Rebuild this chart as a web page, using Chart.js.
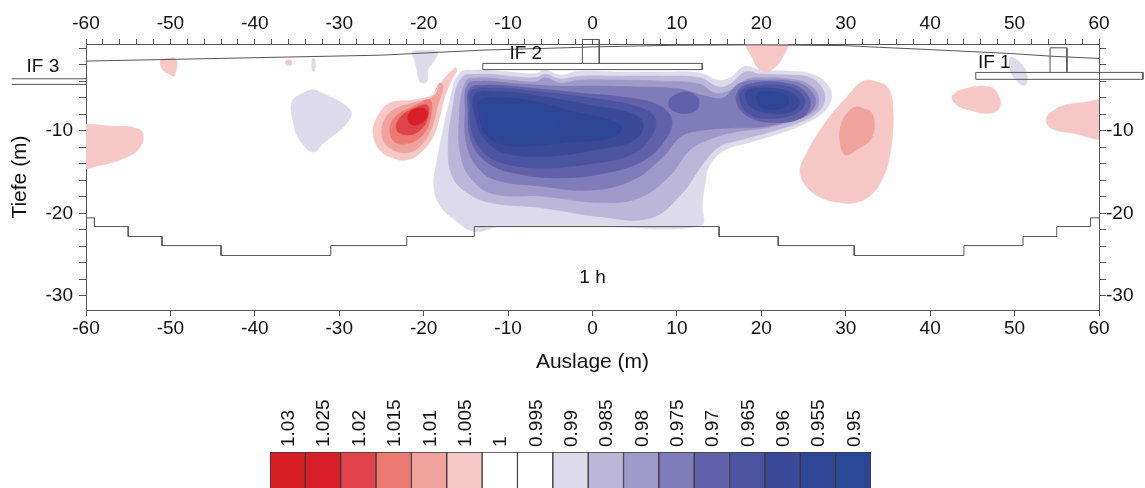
<!DOCTYPE html>
<html><head><meta charset="utf-8">
<script src="https://cdn.jsdelivr.net/npm/chart.js@4.4.1/dist/chart.umd.min.js"></script>
<style>
html,body{margin:0;padding:0;background:#fff;width:1145px;height:488px;overflow:hidden}
#main{position:absolute;left:0;top:0}
#bar{position:absolute;left:0;top:380px}
</style>
</head><body>
<canvas id="main" width="1145" height="380"></canvas>
<canvas id="bar" width="1145" height="108"></canvas>
<script>
// ---------- colour scale (legend) ----------
const levelLabels = ['1.03','1.025','1.02','1.015','1.01','1.005','1','0.995','0.99','0.985','0.98','0.975','0.97','0.965','0.96','0.955','0.95'];
const levelColors = ['#d51d23','#d81f27','#e0434b','#eb7b72','#f0a29d','#f6c8c5','#ffffff','#ffffff','#dcdaeb','#bcb6d9','#9f99ca','#807bb9','#6260a8','#4a54a0','#3a4a99','#2f4596','#2b4797'];

// ---------- contour outlines  [Auslage m, Tiefe m] ----------
const blueMain1 = [[-15.7,-3.0],[-13.3,-2.66],[-9.8,-2.9],[-6.8,-3.1],[-5.6,-2.66],[-3.85,-3.26],[-1.5,-2.8],[3.3,-2.9],[8.0,-2.9],[12.7,-3.0],[14.9,-3.87],[16.3,-3.6],[18.1,-2.2],[19.85,-2.66],[23.4,-2.8],[26.0,-3.15],[27.8,-4.35],[28.3,-6.05],[27.4,-7.74],[24.8,-9.3],[22.2,-10.3],[18.66,-11.4],[15.7,-12.33],[13.9,-14.15],[13.3,-16.6],[13.0,-19.0],[12.8,-21.5],[0.9,-21.6],[-11,-21.6],[-13.9,-22.2],[-16.3,-20.8],[-18.1,-19.0],[-18.8,-16.6],[-18.4,-13.5],[-17.7,-9.9],[-16.9,-6.3]];
const blueMain2 = [[-15.5,-3.6],[-13.3,-3.15],[-9.8,-3.4],[-6.8,-3.6],[-5.6,-3.15],[-3.85,-3.75],[-1.5,-3.4],[3.3,-3.4],[8.0,-3.4],[12.7,-3.6],[14.9,-4.7],[16.3,-4.35],[18.1,-2.9],[19.85,-3.15],[23.4,-3.26],[25.8,-3.6],[27.2,-4.84],[27.5,-6.3],[26.7,-7.74],[24.6,-8.95],[21.0,-10.16],[17.5,-11.1],[14.9,-12.0],[13.0,-14.15],[10.4,-17.8],[6.8,-20.6],[0.9,-20.4],[-6.2,-19.3],[-12.1,-18.7],[-15.0,-17.4],[-16.6,-15.5],[-17.1,-12.3],[-16.6,-7.5]];
const blueMain3 = [[-15.0,-4.0],[-13.3,-3.6],[-9.8,-3.87],[-6.8,-4.1],[-5.6,-3.6],[-3.85,-4.23],[-1.5,-3.87],[3.3,-3.87],[8.0,-4.0],[12.7,-4.35],[14.5,-5.44],[16.6,-5.0],[18.4,-3.75],[20.4,-3.6],[23.4,-3.75],[25.5,-4.35],[26.7,-5.68],[26.4,-7.5],[24.0,-8.7],[20.4,-9.67],[16.9,-10.16],[14.2,-10.9],[11.55,-12.3],[9.2,-15.4],[5.6,-18.1],[0.9,-18.7],[-6.2,-17.9],[-11.55,-17.7],[-14.0,-16.2],[-15.5,-13.5],[-15.8,-8.7]];
const blueMain4 = [[-14.75,-4.35],[-12.7,-4.0],[-8.6,-4.35],[-3.85,-4.6],[0.9,-4.6],[5.6,-4.7],[10.4,-4.96],[13.3,-5.8],[15.5,-6.0],[17.5,-4.23],[21.0,-3.87],[24.0,-4.1],[25.8,-5.08],[26.4,-6.65],[25.2,-8.2],[22.8,-8.95],[19.85,-9.55],[16.3,-9.67],[13.3,-9.9],[10.6,-10.6],[8.2,-13.3],[4.7,-16.0],[-0.3,-17.2],[-6.2,-16.7],[-11.3,-16.0],[-13.55,-14.5],[-14.9,-11.7],[-15.1,-7.5]];
const blueMain5 = [[-14.5,-4.84],[-12.1,-4.47],[-7.4,-4.84],[-1.5,-5.44],[4.44,-6.05],[8.0,-7.0],[9.4,-8.7],[8.6,-11.1],[6.2,-13.5],[2.07,-15.0],[-3.85,-15.7],[-9.8,-15.0],[-12.85,-13.5],[-14.4,-11.1],[-14.75,-7.5]];
const blueKnot5 = [[9.4,-5.9],[11.0,-5.3],[12.4,-5.9],[12.5,-7.26],[11.3,-7.9],[9.6,-7.6],[9.0,-6.8]];
const blueEast5 = [[17.5,-4.84],[19.85,-4.1],[23.4,-4.35],[25.2,-5.3],[25.8,-6.9],[24.6,-8.5],[21.6,-9.0],[18.66,-8.4],[17.1,-6.65]];
const blueMain6 = [[-14.3,-5.08],[-11.0,-4.84],[-6.2,-5.32],[-0.3,-6.05],[5.0,-7.0],[7.4,-8.46],[6.8,-10.9],[4.44,-12.94],[-0.3,-14.0],[-6.2,-14.5],[-11.0,-13.8],[-13.1,-12.33],[-14.3,-9.92],[-14.5,-6.9]];
const blueEast6 = [[17.7,-5.08],[20.4,-4.47],[23.4,-4.7],[24.9,-5.7],[25.0,-7.1],[23.4,-8.2],[20.4,-8.5],[18.4,-7.9],[17.5,-6.5]];
const blueMain7 = [[-13.9,-5.56],[-10.4,-5.32],[-5.6,-5.92],[-0.3,-6.9],[4.44,-7.86],[6.0,-9.2],[5.0,-11.1],[0.9,-12.2],[-5.0,-13.06],[-10.4,-12.7],[-12.7,-11.1],[-13.8,-8.7]];
const blueEast7 = [[18.4,-5.08],[21.0,-4.84],[23.6,-5.44],[24.5,-6.65],[23.4,-7.74],[21.0,-7.86],[18.9,-7.26],[18.2,-6.2]];
const blueMain8 = [[-13.3,-6.29],[-9.8,-6.05],[-5.6,-6.77],[-2.1,-7.74],[2.07,-8.7],[3.5,-9.67],[2.07,-10.9],[-2.67,-11.37],[-7.4,-11.85],[-11.0,-11.6],[-12.85,-10.16],[-13.4,-8.1]];
const blueEast8 = [[19.6,-5.44],[21.6,-5.32],[23.1,-5.9],[23.1,-6.9],[21.6,-7.4],[19.85,-7.0]];
const blueCore9 = [[-12.1,-6.9],[-8.6,-6.65],[-5.6,-7.5],[-3.85,-8.7],[-5.6,-10.5],[-9.2,-11.1],[-11.9,-10.16],[-12.6,-8.46]];
const lilacWest = [[-35.5,-6.3],[-33.5,-5.1],[-32.3,-5.3],[-28.7,-7.5],[-29.1,-9.1],[-31.9,-11.5],[-33.1,-12.6],[-34.7,-11.1],[-35.5,-8.7]];
const lilacTop = [[-21.3,-0.4],[-18.4,-0.4],[-18.8,-1.6],[-19.5,-2.6],[-19.6,-4.0],[-20.4,-4.1],[-20.8,-2.6],[-21.1,-1.4]];
const lilacTiny = [[-33.2,-1.3],[-32.9,-1.3],[-32.9,-2.7],[-33.2,-2.7]];
const lilacIF1 = [[49.5,-1.1],[50.6,-1.7],[51.5,-3.3],[51.2,-4.5],[50.4,-4.1],[49.5,-2.7]];
const redArm1 = [[-16.3,-2.4],[-17.7,-3.87],[-18.4,-5.44],[-21.3,-6.29],[-24.0,-6.65],[-25.5,-8.34],[-26.0,-10.28],[-25.2,-12.33],[-23.6,-13.3],[-22.0,-13.54],[-20.4,-12.7],[-18.9,-10.76],[-18.1,-8.34],[-17.5,-5.9],[-16.5,-3.5],[-16.05,-2.66]];
const redArm2 = [[-18.1,-4.23],[-18.9,-5.9],[-21.3,-6.65],[-23.6,-7.5],[-24.8,-9.07],[-24.8,-11.1],[-23.6,-12.33],[-21.6,-12.58],[-20.1,-11.49],[-19.0,-9.55],[-18.4,-7.13],[-17.7,-4.7]];
const redArm3 = [[-19.25,-6.29],[-21.6,-7.26],[-23.4,-8.34],[-24.0,-9.92],[-23.4,-11.37],[-21.6,-11.49],[-20.1,-10.5],[-19.25,-8.7]];
const redArm4 = [[-19.6,-6.9],[-21.6,-7.5],[-23.0,-8.7],[-23.2,-9.92],[-22.2,-10.5],[-20.7,-10.16],[-19.6,-8.7]];
const redArm5 = [[-20.1,-7.26],[-21.3,-7.5],[-21.9,-8.46],[-21.3,-9.3],[-20.1,-8.95],[-19.5,-7.86]];
const redWestEdge = [[-61,-9.7],[-56,-9.5],[-54.4,-9.6],[-53.3,-10.3],[-53.6,-12.0],[-55.2,-13.2],[-58.4,-14.2],[-61,-14.4]];
const redTopWest = [[-51.1,-1.45],[-49.4,-1.3],[-49.5,-3.3],[-50.2,-3.1],[-51,-2.5]];
const redDot = [[-36.3,-1.5],[-35.7,-1.5],[-35.7,-2.0],[-36.3,-2.0]];
const redTopEast = [[18.3,0.6],[23,0.6],[22.3,-1.5],[21.5,-2.4],[20.5,-2.9],[19.6,-2.4],[19,-1.3]];
const redEastBig = [[32.9,-3.9],[34.9,-4.7],[35.6,-7.5],[35.25,-12.7],[34.1,-16.3],[32.05,-18.4],[29.3,-18.7],[26.1,-17.5],[24.6,-15.1],[25.4,-12.7],[27.8,-8.7],[30.15,-5.9],[31.7,-4.2]];
const redEastCore = [[31.3,-7.1],[33.1,-7.9],[33.1,-10.8],[31.3,-12.3],[29.9,-12.9],[29.3,-11.1],[29.5,-9.1],[30.15,-7.9]];
const redEastMid = [[42.6,-5.9],[43.5,-5.1],[47.1,-4.7],[48.3,-6.3],[48.0,-7.5],[46.7,-7.9],[44.7,-7.5],[43.2,-6.9]];
const redEastEdge = [[53.85,-8.3],[55.4,-7.1],[58,-6.6],[61,-6.5],[61,-10.8],[56.9,-10.3],[54.2,-9.6]];

// contour level of each outline (drawn outer to inner)
const contourShapes = [blueMain1,blueMain2,blueMain3,blueMain4,blueMain5,blueKnot5,blueEast5,blueMain6,blueEast6,blueMain7,blueEast7,blueMain8,blueEast8,blueCore9,
  lilacWest,lilacTop,lilacTiny,lilacIF1,
  redArm1,redArm2,redArm3,redArm4,redArm5,redWestEdge,redTopWest,redDot,redTopEast,redEastBig,redEastCore,redEastMid,redEastEdge];
const contourLevels = ['0.99','0.985','0.98','0.975','0.97','0.97','0.97','0.965','0.965','0.96','0.96','0.955','0.955','0.95',
  '0.99','0.99','0.99','0.99',
  '1.005','1.01','1.015','1.02','1.025','1.005','1.005','1.005','1.005','1.005','1.01','1.005','1.005'];

// ---------- survey lines ----------
const topography = [[-60,-1.57],[-25,-0.85],[-13,-0.24],[-3,0.05],[0,0.15],[10,0.35],[20,0.4],[30,0.3],[34,0.1],[39.6,-0.16],[49.5,-0.65],[54.2,-0.97],[60,-1.25]];
const modelBase = [[-60,-20.55],[-59,-20.55],[-59,-21.6],[-55,-21.6],[-55,-22.8],[-51,-22.8],[-51,-23.9],[-44,-23.9],[-44,-25.1],[-31,-25.1],[-31,-23.9],[-22,-23.9],[-22,-22.8],[-14,-22.8],[-14,-21.6],[15,-21.6],[15,-22.8],[22,-22.8],[22,-23.9],[31,-23.9],[31,-25.1],[44,-25.1],[44,-23.9],[51,-23.9],[51,-22.8],[55,-22.8],[55,-21.6],[59,-21.6],[59,-20.55],[60,-20.55]];
const if2Box = [[-13,-1.85],[13,-1.85],[13,-2.6],[-13,-2.6],[-13,-1.85]];
const centreBox = [[-1.2,-1.85],[-1.2,1.05],[0.8,1.05],[0.8,-1.85]];
const if1Tower = [[54.2,-2.9],[54.2,0.04],[56.2,0.04],[56.2,-2.9]];
const if1Box = [[45.4,-2.94],[65.2,-2.94],[65.2,-3.78],[45.4,-3.78],[45.4,-2.94]];
const if3LineA = [[-60,-3.71],[-68.8,-3.71]];
const if3LineB = [[-60,-4.39],[-68.8,-4.39]];
const surveyLines = [topography, modelBase, if2Box, centreBox, if1Tower, if1Box, if3LineA, if3LineB];

// ---------- text annotations ----------
const noteText = ['IF 3','IF 2','IF 1','1 h'];
const noteX = [-65.1,-7.9,47.6,0];
const noteY = [-2.3,-0.73,-1.8,-27.8];

// ---------- axes ----------
const xMin = -60, xMax = 60, yMin = -31.7, yMax = 0.5;

const FONT = '"Liberation Sans", Arial, Helvetica, sans-serif';
const AXIS = '#555555';
const colorOf = lv => levelColors[levelLabels.indexOf(lv)];
const toXY = pts => pts.map(p => ({x: p[0], y: p[1]}));

const datasets = [];
contourShapes.forEach((pts, i) => {
  const c = colorOf(contourLevels[i]);
  datasets.push({
    data: toXY(pts.concat([pts[0], pts[1]])),
    fill: 'shape', backgroundColor: c, borderColor: c, borderWidth: 0.6,
    pointRadius: 0, tension: 0.4, order: 1000 - i
  });
});
surveyLines.forEach(pts => {
  datasets.push({
    data: toXY(pts), fill: false, borderColor: '#555555', borderWidth: 1,
    pointRadius: 0, tension: 0, order: -1, clip: false
  });
});

const notes = {
  id: 'notes',
  afterDatasetsDraw(chart) {
    const {ctx, scales: {x, y}} = chart;
    ctx.save();
    ctx.fillStyle = '#111';
    ctx.font = '19px ' + FONT;
    ctx.textAlign = 'center';
    ctx.textBaseline = 'middle';
    noteText.forEach((t, i) => ctx.fillText(t, x.getPixelForValue(noteX[i]), y.getPixelForValue(noteY[i])));
    ctx.restore();
  }
};

const tickFont = {family: FONT, size: 19};
new Chart(document.getElementById('main'), {
  type: 'line',
  data: {datasets},
  plugins: [notes],
  options: {
    responsive: false, animation: false, devicePixelRatio: 1,
    layout: {padding: 0},
    plugins: {legend: {display: false}, tooltip: {enabled: false}},
    scales: {
      x: {
        type: 'linear', position: 'bottom', min: xMin, max: xMax,
        afterFit: s => { s.height = 70; },
        grid: {drawOnChartArea: false, tickLength: 6, color: AXIS},
        border: {color: AXIS},
        ticks: {stepSize: 10, color: '#111', font: tickFont, padding: 1, maxRotation: 0, autoSkip: false},
        title: {display: true, text: 'Auslage (m)', color: '#111', font: {family: FONT, size: 21}, padding: {bottom: 5, top: 0}}
      },
      x2: {
        type: 'linear', position: 'top', min: xMin, max: xMax,
        afterFit: s => { s.height = 44; },
        grid: {drawOnChartArea: false, tickLength: 5, color: AXIS},
        border: {color: AXIS},
        ticks: {stepSize: 2, color: '#111', font: tickFont, padding: 4, maxRotation: 0, autoSkip: false,
          callback: v => (v % 10 === 0 ? String(v) : '')}
      },
      y: {
        type: 'linear', position: 'left', min: yMin, max: yMax,
        afterFit: s => { s.width = 86; },
        grid: {drawOnChartArea: false, tickLength: 7, color: AXIS},
        border: {color: AXIS},
        ticks: {stepSize: 2, includeBounds: false, color: '#111', font: tickFont, padding: 6, autoSkip: false,
          callback: v => (v % 10 === 0 && v !== 0 ? String(v) : '')},
        title: {display: true, text: 'Tiefe (m)', color: '#111', font: {family: FONT, size: 21}, padding: {top: 8, bottom: 0}}
      },
      y2: {
        type: 'linear', position: 'right', min: yMin, max: yMax,
        afterFit: s => { s.width = 46; },
        grid: {drawOnChartArea: false, tickLength: 7, color: AXIS},
        border: {color: AXIS},
        ticks: {stepSize: 2, includeBounds: false, color: '#111', font: tickFont, padding: 0, autoSkip: false,
          callback: v => (v % 10 === 0 && v !== 0 ? String(v) : '')}
      }
    }
  }
});

// ---------- colour bar ----------
new Chart(document.getElementById('bar'), {
  type: 'bar',
  data: {
    labels: levelLabels,
    datasets: [{
      data: levelLabels.map(() => 1),
      backgroundColor: levelColors,
      borderColor: '#3a3a3a', borderWidth: 1, borderSkipped: 'bottom',
      categoryPercentage: 1, barPercentage: 1
    }]
  },
  options: {
    responsive: false, animation: false, devicePixelRatio: 1,
    layout: {padding: {left: 270, right: 274, top: 0, bottom: 0}},
    plugins: {legend: {display: false}, tooltip: {enabled: false}},
    scales: {
      x: {
        position: 'top',
        afterFit: s => { s.height = 72; },
        grid: {display: false}, border: {display: false},
        ticks: {color: '#111', font: {family: FONT, size: 19}, minRotation: 90, maxRotation: 90, autoSkip: false, padding: -3, labelOffset: 24}
      },
      y: {display: false, min: 0, max: 1}
    }
  }
});
</script>
</body></html>
